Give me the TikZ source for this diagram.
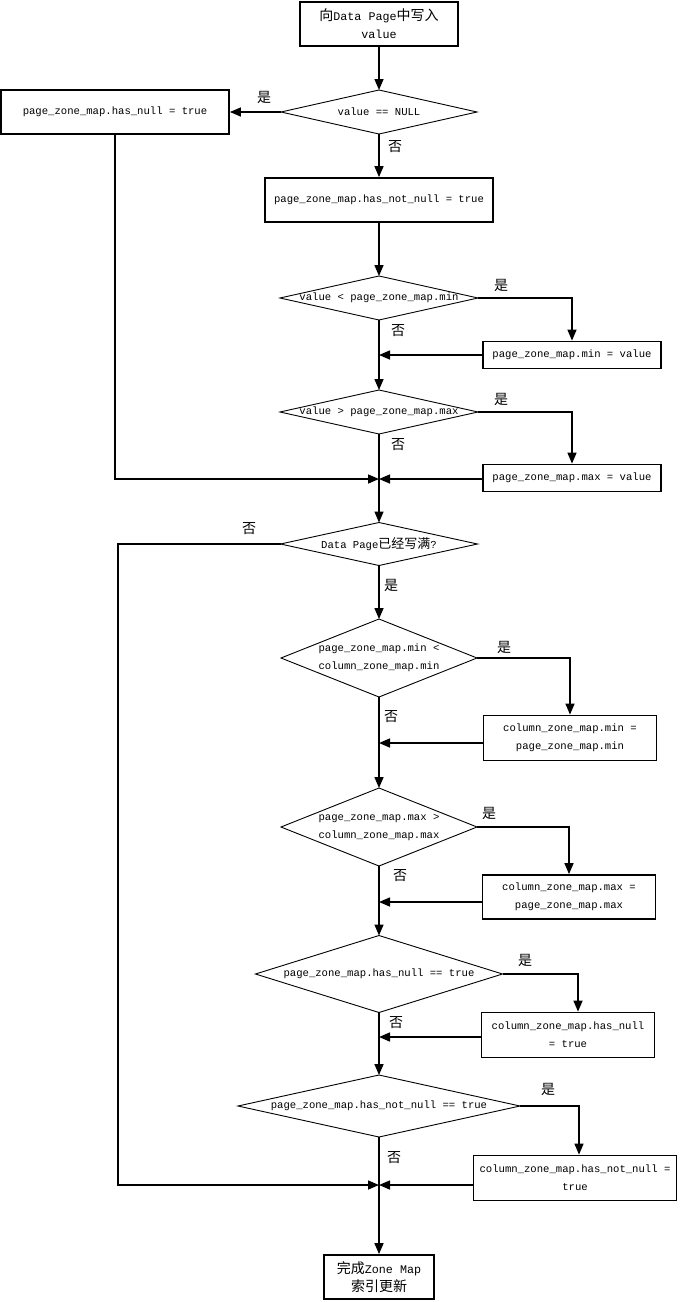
\documentclass[tikz,border=0pt]{standalone}
\usepackage{fontspec}
\setmainfont{Liberation Mono}
\newfontfamily\cjk{Noto Sans CJK SC}
\newcommand\zh[1]{{\cjk\fontsize{13}{18}\selectfont #1}}
\newcommand\zhb[1]{{\cjk\fontsize{14}{18}\selectfont #1}}
\usetikzlibrary{shapes.geometric,arrows.meta}
\begin{document}
\begin{tikzpicture}[x=1pt,y=-1pt,
  box/.style={draw, line width=1.8pt, inner sep=0pt, align=center, font=\fontsize{10.6}{18}\selectfont},
  bigbox/.style={box, font=\fontsize{11.7}{18}\selectfont},
  dia/.style={draw, diamond, line width=0.9pt, inner sep=0pt, outer sep=0pt},
  dtext/.style={font=\fontsize{10.6}{18}\selectfont, align=center, inner sep=0pt},
  yn/.style={font=\cjk\fontsize{14}{16}\selectfont, inner sep=0pt},
  conn/.style={line width=1.5pt},
  arr/.style={conn, -{Triangle[length=11pt,width=9pt]}}]
\useasboundingbox (0,0) rectangle (680,1302);

% nodes
\node[bigbox, minimum width=158pt, minimum height=44pt] (start) at (379,24) {\zhb{向}Data Page\zhb{中写入}\\value};
\node[dia, minimum width=196pt, minimum height=44pt, label={[dtext]center:{value == NULL}}] (d1) at (379,112) {};
\node[box, minimum width=228pt, minimum height=44pt] (hasnull) at (115,112) {page\_zone\_map.has\_null = true};
\node[box, minimum width=228pt, minimum height=44pt] (hasnotnull) at (379,200) {page\_zone\_map.has\_not\_null = true};
\node[dia, minimum width=198pt, minimum height=44pt, label={[dtext]center:{value < page\_zone\_map.min}}] (d2) at (379,298) {};
\node[box, minimum width=178pt, minimum height=27pt] (minbox) at (572,355) {page\_zone\_map.min = value};
\node[dia, minimum width=198pt, minimum height=44pt, label={[dtext]center:{value > page\_zone\_map.max}}] (d3) at (379,412) {};
\node[box, minimum width=178pt, minimum height=27pt] (maxbox) at (572,478) {page\_zone\_map.max = value};
\node[dia, minimum width=197pt, minimum height=43pt, label={[dtext]center:{Data Page\zh{已经写满}?}}] (d4) at (379,544) {};
\node[dia, minimum width=196pt, minimum height=78pt, label={[dtext]center:{page\_zone\_map.min <\\column\_zone\_map.min}}] (d5) at (379,658) {};
\node[box, minimum width=173pt, minimum height=45pt] (cminbox) at (570,738) {column\_zone\_map.min =\\page\_zone\_map.min};
\node[dia, minimum width=196pt, minimum height=78pt, label={[dtext]center:{page\_zone\_map.max >\\column\_zone\_map.max}}] (d6) at (379,827) {};
\node[box, minimum width=173pt, minimum height=44pt] (cmaxbox) at (569,897) {column\_zone\_map.max =\\page\_zone\_map.max};
\node[dia, minimum width=247pt, minimum height=77pt, label={[dtext]center:{page\_zone\_map.has\_null == true}}] (d7) at (379,974) {};
\node[box, minimum width=173pt, minimum height=45pt] (chnbox) at (568,1035) {column\_zone\_map.has\_null\\= true};
\node[dia, minimum width=282pt, minimum height=62pt, label={[dtext]center:{page\_zone\_map.has\_not\_null == true}}] (d8) at (379,1106) {};
\node[box, minimum width=203pt, minimum height=45pt] (chnnbox) at (575,1178) {column\_zone\_map.has\_not\_null =\\true};
\node[bigbox, minimum width=110pt, minimum height=44pt] (finish) at (379,1277) {\zhb{完成}Zone Map\\\zhb{索引更新}};

% junctions
\coordinate (j1) at (379,355);
\coordinate (j2) at (379,479);
\coordinate (j3) at (379,743);
\coordinate (j4) at (379,902);
\coordinate (j5) at (379,1037);
\coordinate (j6) at (379,1185);
\coordinate (lft) at (118,1185);

% labels
\node[yn] (l1) at (264,97) {是};
\node[yn] (l2) at (395,147) {否};
\node[yn] (l3) at (501,285) {是};
\node[yn] (l4) at (398,331) {否};
\node[yn] (l5) at (501,399) {是};
\node[yn] (l6) at (398,445) {否};
\node[yn] (l7) at (249,529) {否};
\node[yn] (l8) at (391,585) {是};
\node[yn] (l9) at (504,647) {是};
\node[yn] (l10) at (391,717) {否};
\node[yn] (l11) at (489,813) {是};
\node[yn] (l12) at (400,876) {否};
\node[yn] (l13) at (525,960) {是};
\node[yn] (l14) at (396,1023) {否};
\node[yn] (l15) at (548,1089) {是};
\node[yn] (l16) at (394,1158) {否};

% connectors
\draw[arr] (start.south) -- (d1.north);
\draw[arr] (d1.west) -- (hasnull.east);
\draw[arr] (d1.south) -- (hasnotnull.north);
\draw[arr] (hasnotnull.south) -- (d2.north);
\draw[arr] (d2.east) -| (minbox.north);
\draw[arr] (minbox.west |- j1) -- (j1);
\draw[arr] (d2.south) -- (d3.north);
\draw[arr] (d3.east) -| (maxbox.north);
\draw[arr] (maxbox.west |- j2) -- (j2);
\draw[arr] (hasnull.south) |- (j2);
\draw[arr] (d3.south) -- (d4.north);
\draw[arr] (d4.south) -- (d5.north);
\draw[arr] (d5.east) -| (cminbox.north);
\draw[arr] (cminbox.west |- j3) -- (j3);
\draw[arr] (d5.south) -- (d6.north);
\draw[arr] (d6.east) -| (cmaxbox.north);
\draw[arr] (cmaxbox.west |- j4) -- (j4);
\draw[arr] (d6.south) -- (d7.north);
\draw[arr] (d7.east) -| ([xshift=10pt]chnbox.north);
\draw[arr] (chnbox.west |- j5) -- (j5);
\draw[arr] (d7.south) -- (d8.north);
\draw[arr] (d8.east) -| ([xshift=4pt]chnnbox.north);
\draw[arr] (chnnbox.west |- j6) -- (j6);
\draw[arr] (d4.west) -| (lft) -- (j6);
\draw[arr] (d8.south) -- (finish.north);
\end{tikzpicture}
\end{document}
